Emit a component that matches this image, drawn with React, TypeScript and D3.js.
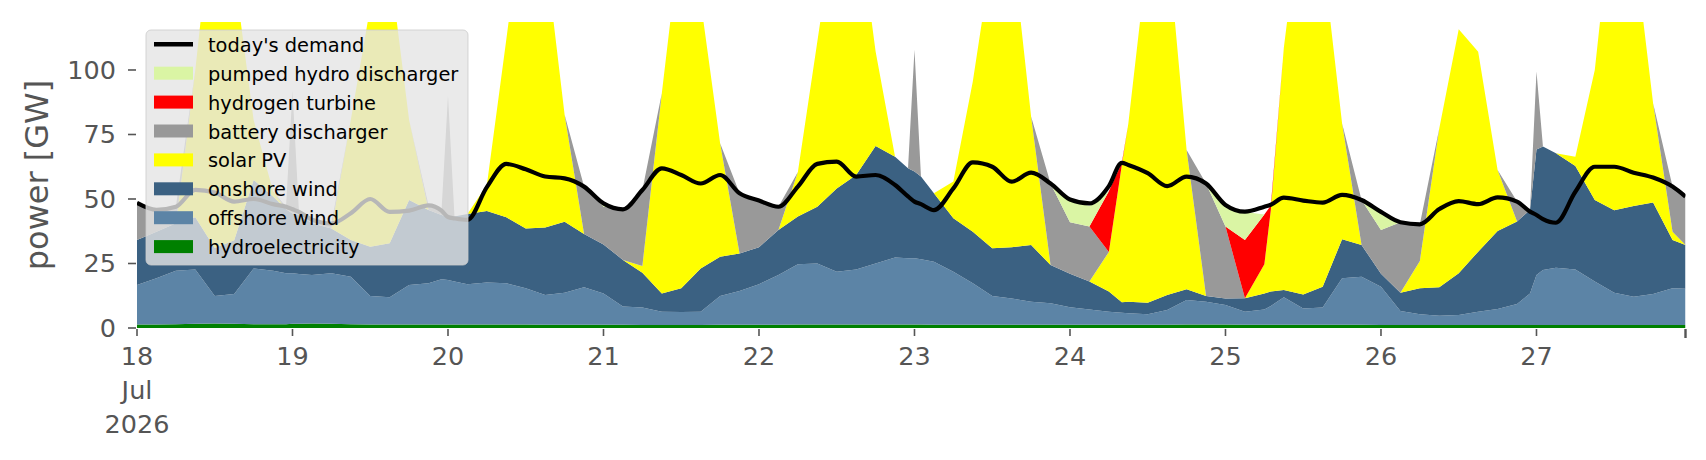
import React, { useRef, useEffect } from 'react';
import * as d3 from 'd3';

// hours after 18 Jul 2026 00:00 at which the chart was read (one row per day)
const hours = [
  0, 3, 6, 9, 12, 15, 18, 21, 23,
  24, 25, 27, 30, 33, 36, 39, 42, 45, 47,
  48, 49, 51, 54, 57, 60, 63, 66, 69,
  72, 75, 78, 81, 84, 87, 90, 93,
  96, 99, 102, 105, 108, 111, 114, 117, 119,
  120, 121, 123, 126, 129, 132, 135, 138, 141,
  144, 147, 150, 152, 153, 156, 159, 162, 165,
  168, 171, 174, 175, 177, 180, 183, 186, 189,
  192, 195, 198, 201, 204, 207, 210, 213, 215,
  216, 217, 219, 222, 225, 228, 231, 234, 237, 239,
];

// GW
const hydroelectricity = [
  1.4, 1.4, 1.5, 1.6, 1.7, 1.6, 1.5, 1.5, 1.5,
  1.6, 1.6, 1.7, 1.6, 1.5, 1.4, 1.4, 1.4, 1.4, 1.4,
  1.4, 1.4, 1.4, 1.4, 1.4, 1.4, 1.3, 1.3, 1.3,
  1.3, 1.3, 1.2, 1.2, 1.2, 1.2, 1.3, 1.3,
  1.3, 1.3, 1.4, 1.4, 1.4, 1.4, 1.4, 1.4, 1.4,
  1.4, 1.4, 1.3, 1.3, 1.3, 1.3, 1.3, 1.3, 1.3,
  1.3, 1.3, 1.3, 1.3, 1.3, 1.3, 1.3, 1.4, 1.4,
  1.4, 1.3, 1.3, 1.3, 1.3, 1.3, 1.3, 1.3, 1.3,
  1.2, 1.2, 1.2, 1.2, 1.2, 1.2, 1.2, 1.2, 1.2,
  1.2, 1.2, 1.2, 1.2, 1.2, 1.2, 1.2, 1.2, 1.2, 1.2,
];

const offshoreWind = [
  15.3, 17.9, 20.7, 21.1, 10.7, 11.6, 21.6, 20.7, 19.7,
  19.6, 19.3, 18.8, 19.6, 18.4, 11.0, 10.5, 15.3, 15.9, 17.5,
  17.2, 16.6, 15.6, 16.2, 15.9, 14.0, 11.5, 12.4, 14.5,
  12.1, 7.0, 6.7, 5.1, 5.0, 5.1, 11.1, 13.0,
  15.7, 19.2, 23.3, 23.6, 20.4, 21.3, 23.6, 25.9, 25.6,
  25.6, 25.2, 24.4, 20.5, 16.0, 11.1, 10.1, 8.9, 8.3,
  6.7, 5.9, 5.0, 4.6, 4.4, 4.0, 5.7, 9.5, 8.8,
  7.5, 5.0, 5.9, 7.2, 10.6, 6.3, 6.6, 18.0, 18.6,
  14.8, 5.4, 4.1, 3.5, 3.8, 5.1, 6.2, 8.1, 12.2,
  19.3, 21.3, 22.2, 21.5, 16.8, 12.5, 10.9, 12.0, 14.2, 14.0,
];

const onshoreWind = [
  17.4, 18.0, 18.4, 20.2, 18.6, 20.8, 34.3, 28.8, 24.8,
  23.2, 22.9, 20.1, 17.4, 14.2, 19.1, 20.9, 32.9, 28.4, 24.9,
  24.6, 25.2, 27.2, 27.7, 25.6, 23.2, 26.2, 27.5, 20.6,
  19.0, 18.1, 13.5, 7.1, 9.2, 16.8, 15.2, 14.6,
  14.3, 17.5, 18.5, 22.0, 32.3, 36.6, 45.5, 39.1, 34.9,
  33.7, 32.1, 26.5, 20.7, 20.0, 18.5, 19.9, 22.0, 14.8,
  13.0, 10.8, 7.8, 4.1, 4.5, 4.5, 5.8, 4.1, 2.2,
  2.5, 5.2, 6.2, 5.6, 2.8, 5.4, 8.1, 15.1, 12.3,
  5.0, 7.1, 10.1, 11.1, 16.2, 23.3, 30.2, 32.0, 32.3,
  48.7, 47.8, 44.3, 40.1, 31.6, 31.9, 35.2, 35.4, 18.7, 17.0,
];

const solarPV = [
  0, 0, 0, 57.1, 139.0, 103.9, 23.2, 2.0, 0,
  0, 0, 0, 0, 46.5, 92.9, 107.8, 31.0, 0, 0,
  0, 0, 0, 10.1, 68.9, 131.4, 107.0, 41.5, 0,
  0, 0, 2.6, 77.6, 139.3, 103.6, 44.0, 0,
  0, 0, 17.3, 63.9, 107.9, 104.7, 36.7, 0, 0,
  0, 0, 0, 14.3, 58.2, 114.1, 119.3, 49.8, 0,
  0, 0, 15.4, 53.2, 69.0, 135.1, 138.9, 54.0, 0,
  0, 0, 11.3, 31.6, 93.8, 156.0, 128.8, 44.9, 0,
  0, 0, 10.6, 61.6, 94.6, 77.5, 23.6, 0, 0,
  0, 0, 0, 3.6, 50.4, 124.2, 102.8, 38.5, 3.2, 0,
];

const batteryDischarger = [
  14.4, 8.5, 6.4, 0, 0, 0, 0, 0, 1.0,
  47.6, 1.2, 1.4, 1.9, 0, 0, 0, 0, 1.8, 1.7,
  46.8, 0, 0, 0, 0, 0, 0, 0, 18.4,
  14.6, 19.6, 29.5, 0, 0, 0, 0, 23.3,
  18.1, 9.0, 0, 0, 0, 0, 0, 0, 0,
  47.1, 0, 0, 0, 0, 0, 0, 0, 31.6,
  20.0, 21.3, 0, 0, 0, 0, 0, 0, 43.6,
  27.9, 0, 0, 0, 0, 0, 0, 0, 17.4,
  17.0, 27.3, 14.2, 0, 0, 0, 0, 7.7, 0,
  30.2, 0, 0, 0, 0, 0, 0, 0, 17.5, 18.7,
];

const hydrogenTurbine = [
  0, 0, 0, 0, 0, 0, 0, 0, 0,
  0, 0, 0, 0, 0, 0, 0, 0, 0, 0,
  0, 0, 0, 0, 0, 0, 0, 0, 0,
  0, 0, 0, 0, 0, 0, 0, 0,
  0, 0, 0, 0, 0, 0, 0, 0, 0,
  0, 0, 0, 0, 0, 0, 0, 0, 0,
  0, 0, 23.5, 0.8, 0, 0, 0, 0, 0,
  0, 22.6, 19.3, 1.8, 0, 0, 0, 0, 0,
  0, 0, 0, 0, 0, 0, 0, 0, 0,
  0, 0, 0, 0, 0, 0, 0, 0, 0, 0,
];

const pumpedHydroDischarger = [
  0, 0, 0, 0, 0, 0, 0, 0, 0,
  0, 0, 0, 0, 0, 0, 0, 0, 0, 0,
  0, 0, 0, 0, 0, 0, 0, 0, 0,
  1.5, 0, 0, 0, 0, 0, 0, 0,
  0, 0, 0, 0, 0, 0, 0, 0, 0,
  0, 0, 0, 0, 0, 0, 0, 0, 0,
  8.5, 8.0, 0, 0, 0, 0, 0, 0, 0,
  7.5, 10.9, 0, 0, 0, 0, 0, 0, 0,
  7.0, 0, 0, 0, 0, 0, 0, 0, 0,
  0, 0, 0, 0, 0, 0, 0, 0, 0, 0,
];

const todaysDemand = [
  48.5, 45.8, 47, 53.5, 52.5, 49, 50, 48, 47,
  46, 45, 42, 40.5, 44.5, 50, 45, 45.5, 47.5, 45.5,
  43, 42.5, 41.9, 54.6, 63.6, 61.5, 58.7, 58, 54.8,
  48.3, 46, 53.5, 61.9, 59.3, 56, 59.3, 52.2,
  49.4, 47, 54.8, 63.6, 64.5, 58.7, 59.3, 55.4, 51,
  49, 48, 45.7, 54.1, 64.2, 62.5, 56.7, 60.2, 56,
  49.8, 48.3, 55, 64, 63.2, 60, 55, 58.7, 56,
  47.7, 45.1, 47, 47.8, 50.5, 49.4, 48.6, 51.6, 49.6,
  45, 41, 40.2, 46.1, 49.2, 48, 50.6, 49, 45.1,
  43.8, 42.2, 40.8, 52.8, 62.5, 62.5, 60.2, 58.3, 54.8, 50.9,
];

const yTicks = [0, 25, 50, 75, 100];

// stacking order, bottom to top
const carriers = [
  { key: 'hydroelectricity', values: hydroelectricity, color: '#008000' },
  { key: 'offshore wind', values: offshoreWind, color: '#5c84a6' },
  { key: 'onshore wind', values: onshoreWind, color: '#3b6182' },
  { key: 'solar PV', values: solarPV, color: '#ffff00' },
  { key: 'battery discharger', values: batteryDischarger, color: '#999999' },
  { key: 'hydrogen turbine', values: hydrogenTurbine, color: '#ff0000' },
  { key: 'pumped hydro discharger', values: pumpedHydroDischarger, color: '#daf5a4' },
];

const App: React.FC = () => {
  const svgRef = useRef<SVGSVGElement>(null);

  useEffect(() => {
    if (!svgRef.current) return;
    const svg = d3.select(svgRef.current);
    svg.selectAll('*').remove();

    const font = 'DejaVu Sans';
    const grey = '#555555';
    const plot = { left: 137, right: 1685.5, top: 22, bottom: 328 };

    const start = Date.UTC(2026, 6, 18, 0);
    const dates = hours.map(h => new Date(start + h * 3600e3));

    const x = d3.scaleUtc()
      .domain([dates[0], dates[dates.length - 1]])
      .range([plot.left, plot.right]);

    const y = d3.scaleLinear()
      .domain([0, 118.6])
      .range([plot.bottom, plot.top]);

    const rows = dates.map((date, i) => {
      const row: Record<string, any> = { date };
      carriers.forEach(c => { row[c.key] = c.values[i]; });
      return row;
    });

    const stacked = d3.stack<any>().keys(carriers.map(c => c.key))(rows);

    svg.append('defs').append('clipPath').attr('id', 'plot-clip')
      .append('rect')
      .attr('x', plot.left).attr('y', plot.top)
      .attr('width', plot.right - plot.left).attr('height', plot.bottom - plot.top);

    const area = d3.area<any>()
      .x(d => x(d.data.date))
      .y0(d => y(d[0]))
      .y1(d => y(d[1]));

    const g = svg.append('g').attr('clip-path', 'url(#plot-clip)');

    g.selectAll('path.area')
      .data(stacked)
      .enter()
      .append('path')
      .attr('class', 'area')
      .attr('d', area)
      .attr('fill', (_d, i) => carriers[i].color);

    const line = d3.line<number>()
      .x((_d, i) => x(dates[i]))
      .y(d => y(d))
      .curve(d3.curveMonotoneX);

    g.append('path')
      .attr('d', line(todaysDemand))
      .attr('fill', 'none')
      .attr('stroke', '#000')
      .attr('stroke-width', 4.2)
      .attr('stroke-linejoin', 'round');

    // y axis (no spine)
    const yAxis = svg.append('g');
    yTicks.forEach(t => {
      yAxis.append('line')
        .attr('x1', 128).attr('x2', 136)
        .attr('y1', y(t)).attr('y2', y(t))
        .attr('stroke', grey).attr('stroke-width', 1.6);
      yAxis.append('text')
        .attr('x', 116).attr('y', y(t) + 9)
        .attr('text-anchor', 'end')
        .attr('font-family', font).attr('font-size', 25.5)
        .attr('fill', grey)
        .text(t);
    });

    svg.append('text')
      .attr('transform', `translate(48,175) rotate(-90)`)
      .attr('text-anchor', 'middle')
      .attr('font-family', font).attr('font-size', 32)
      .attr('fill', grey)
      .text('power [GW]');

    // x axis: one tick per day
    const xAxis = svg.append('g');
    const days = d3.utcDay.range(dates[0], dates[dates.length - 1]);
    days.forEach((day, i) => {
      const px = x(day);
      xAxis.append('line')
        .attr('x1', px).attr('x2', px)
        .attr('y1', 329).attr('y2', 336)
        .attr('stroke', grey).attr('stroke-width', 1.6);
      const label = xAxis.append('text')
        .attr('text-anchor', 'middle')
        .attr('font-family', font).attr('font-size', 25.5)
        .attr('fill', grey);
      const lines = i === 0
        ? [d3.utcFormat('%-d')(day), d3.utcFormat('%b')(day), d3.utcFormat('%Y')(day)]
        : [d3.utcFormat('%-d')(day)];
      lines.forEach((s, j) => {
        label.append('tspan').attr('x', px).attr('y', 365 + j * 34).text(s);
      });
    });
    xAxis.append('line')
      .attr('x1', plot.right).attr('x2', plot.right)
      .attr('y1', 329).attr('y2', 338)
      .attr('stroke', grey).attr('stroke-width', 2.4);

    // legend
    const legend = svg.append('g');
    legend.append('rect')
      .attr('x', 146).attr('y', 30)
      .attr('width', 322).attr('height', 235)
      .attr('rx', 5)
      .attr('fill', '#e5e5e5').attr('fill-opacity', 0.8)
      .attr('stroke', '#cccccc').attr('stroke-opacity', 0.8);

    const entries = [
      { key: "today's demand", color: '#000', isLine: true },
      ...carriers.slice().reverse().map(c => ({ key: c.key, color: c.color, isLine: false })),
    ];
    entries.forEach((e, i) => {
      const cy = 44.3 + i * 28.9;
      if (e.isLine) {
        legend.append('line')
          .attr('x1', 154).attr('x2', 193)
          .attr('y1', cy).attr('y2', cy)
          .attr('stroke', e.color).attr('stroke-width', 4.5);
      } else {
        legend.append('rect')
          .attr('x', 154).attr('y', cy - 6.5)
          .attr('width', 39).attr('height', 13)
          .attr('fill', e.color);
      }
      legend.append('text')
        .attr('x', 208).attr('y', cy + 7.5)
        .attr('font-family', font).attr('font-size', 19.4)
        .attr('fill', '#000')
        .text(e.key);
    });
  }, []);

  return (
    <svg
      ref={svgRef}
      width={1706}
      height={460}
      style={{ position: 'absolute', left: 0, top: 0, background: '#fff' }}
    />
  );
};

export default App;
